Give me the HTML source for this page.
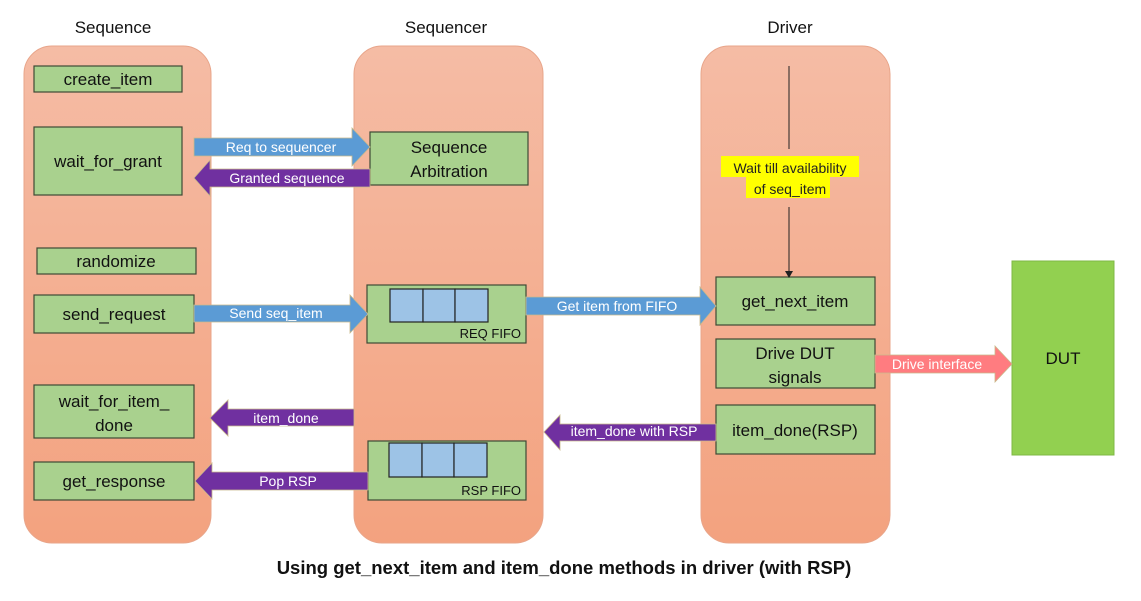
<!DOCTYPE html>
<html><head><meta charset="utf-8"><style>
body{margin:0;background:#fff;}
svg text{font-family:"Liberation Sans",sans-serif;}
</style></head><body>
<svg width="1141" height="596" viewBox="0 0 1141 596" xmlns="http://www.w3.org/2000/svg">
<defs>
<linearGradient id="col" x1="0" y1="0" x2="0" y2="1">
<stop offset="0" stop-color="#f5bca5"/><stop offset="1" stop-color="#f3a27f"/>
</linearGradient>
</defs>
<rect width="1141" height="596" fill="#fff"/>
<g font-size="17" fill="#111" text-anchor="middle">
<text x="113" y="33">Sequence</text>
<text x="446" y="33">Sequencer</text>
<text x="790" y="33">Driver</text>
</g>
<g fill="url(#col)" stroke="#e8a58a" stroke-width="1">
<rect x="24" y="46" width="187" height="497" rx="28"/>
<rect x="354" y="46" width="189" height="497" rx="28"/>
<rect x="701" y="46" width="189" height="497" rx="28"/>
</g>
<g fill="#a9d18e" stroke="#3d4a35" stroke-width="1.2">
<rect x="34" y="66" width="148" height="26"/>
<rect x="34" y="127" width="148" height="68"/>
<rect x="37" y="248" width="159" height="26"/>
<rect x="34" y="295" width="160" height="38"/>
<rect x="34" y="385" width="160" height="53"/>
<rect x="34" y="462" width="160" height="38"/>
<rect x="370" y="132" width="158" height="53"/>
<rect x="367" y="285" width="159" height="58"/>
<rect x="368" y="441" width="158" height="59"/>
<rect x="716" y="277" width="159" height="48"/>
<rect x="716" y="339" width="159" height="49"/>
<rect x="716" y="405" width="159" height="49"/>
</g>
<g fill="#9dc3e6" stroke="#222" stroke-width="1.2">
<rect x="390" y="289" width="33" height="33"/><rect x="423" y="289" width="32" height="33"/><rect x="455" y="289" width="33" height="33"/>
<rect x="389" y="443" width="33" height="34"/><rect x="422" y="443" width="32" height="34"/><rect x="454" y="443" width="33" height="34"/>
</g>
<rect x="1012" y="261" width="102" height="194" fill="#92d050" stroke="#7fb844"/>
<text x="1063" y="364" font-size="17" text-anchor="middle" fill="#111">DUT</text>
<g font-size="17" fill="#111" text-anchor="middle">
<text x="108" y="85">create_item</text>
<text x="108" y="167">wait_for_grant</text>
<text x="116" y="267">randomize</text>
<text x="114" y="320">send_request</text>
<text x="114" y="407">wait_for_item_</text>
<text x="114" y="431">done</text>
<text x="114" y="487">get_response</text>
<text x="449" y="153">Sequence</text>
<text x="449" y="177">Arbitration</text>
<text x="795" y="307">get_next_item</text>
<text x="795" y="359">Drive DUT</text>
<text x="795" y="383">signals</text>
<text x="795" y="436">item_done(RSP)</text>
</g>
<g font-size="13" fill="#111" text-anchor="end">
<text x="521" y="338">REQ FIFO</text>
<text x="521" y="495">RSP FIFO</text>
</g>
<line x1="789" y1="66" x2="789" y2="149" stroke="#222" stroke-width="1"/>
<line x1="789" y1="207" x2="789" y2="272" stroke="#222" stroke-width="1"/>
<polygon points="785,271 793,271 789,278" fill="#222"/>
<rect x="721" y="156" width="138" height="21" fill="#ffff00"/>
<rect x="746" y="177" width="84" height="21" fill="#ffff00"/>
<text x="790" y="173" font-size="14" text-anchor="middle" fill="#222">Wait till availability</text>
<text x="790" y="194" font-size="14" text-anchor="middle" fill="#222">of seq_item</text>
<g stroke="#c9b98a" stroke-width="0.8">
<polygon fill="#5b9bd5" points="194,138 352,138 352,128 370,147 352,166 352,156 194,156"/>
<polygon fill="#7030a0" points="370,169 210,169 210,160 194,178 210,196 210,187 370,187"/>
<polygon fill="#5b9bd5" points="194,305 350,305 350,295 368,314 350,333 350,322 194,322"/>
<polygon fill="#5b9bd5" points="526,297 700,297 700,287 716,306 700,325 700,315 526,315"/>
<polygon fill="#ff7c80" points="875,355 995,355 995,346 1012,364 995,382 995,373 875,373"/>
<polygon fill="#7030a0" points="354,409 228,409 228,400 210,418 228,436 228,426 354,426"/>
<polygon fill="#7030a0" points="716,424 560,424 560,415 544,432 560,450 560,441 716,441"/>
<polygon fill="#7030a0" points="368,472 212,472 212,463 195,481 212,499 212,490 368,490"/>
</g>
<g font-size="14" fill="#fff" text-anchor="middle">
<text x="281" y="152">Req to sequencer</text>
<text x="287" y="183">Granted sequence</text>
<text x="276" y="318">Send seq_item</text>
<text x="617" y="311">Get item from FIFO</text>
<text x="937" y="369">Drive interface</text>
<text x="286" y="423">item_done</text>
<text x="634" y="436">item_done with RSP</text>
<text x="288" y="486">Pop RSP</text>
</g>
<text x="564" y="574" font-size="18.5" font-weight="bold" text-anchor="middle" fill="#111">Using get_next_item and item_done methods in driver (with RSP)</text>
</svg>
</body></html>
